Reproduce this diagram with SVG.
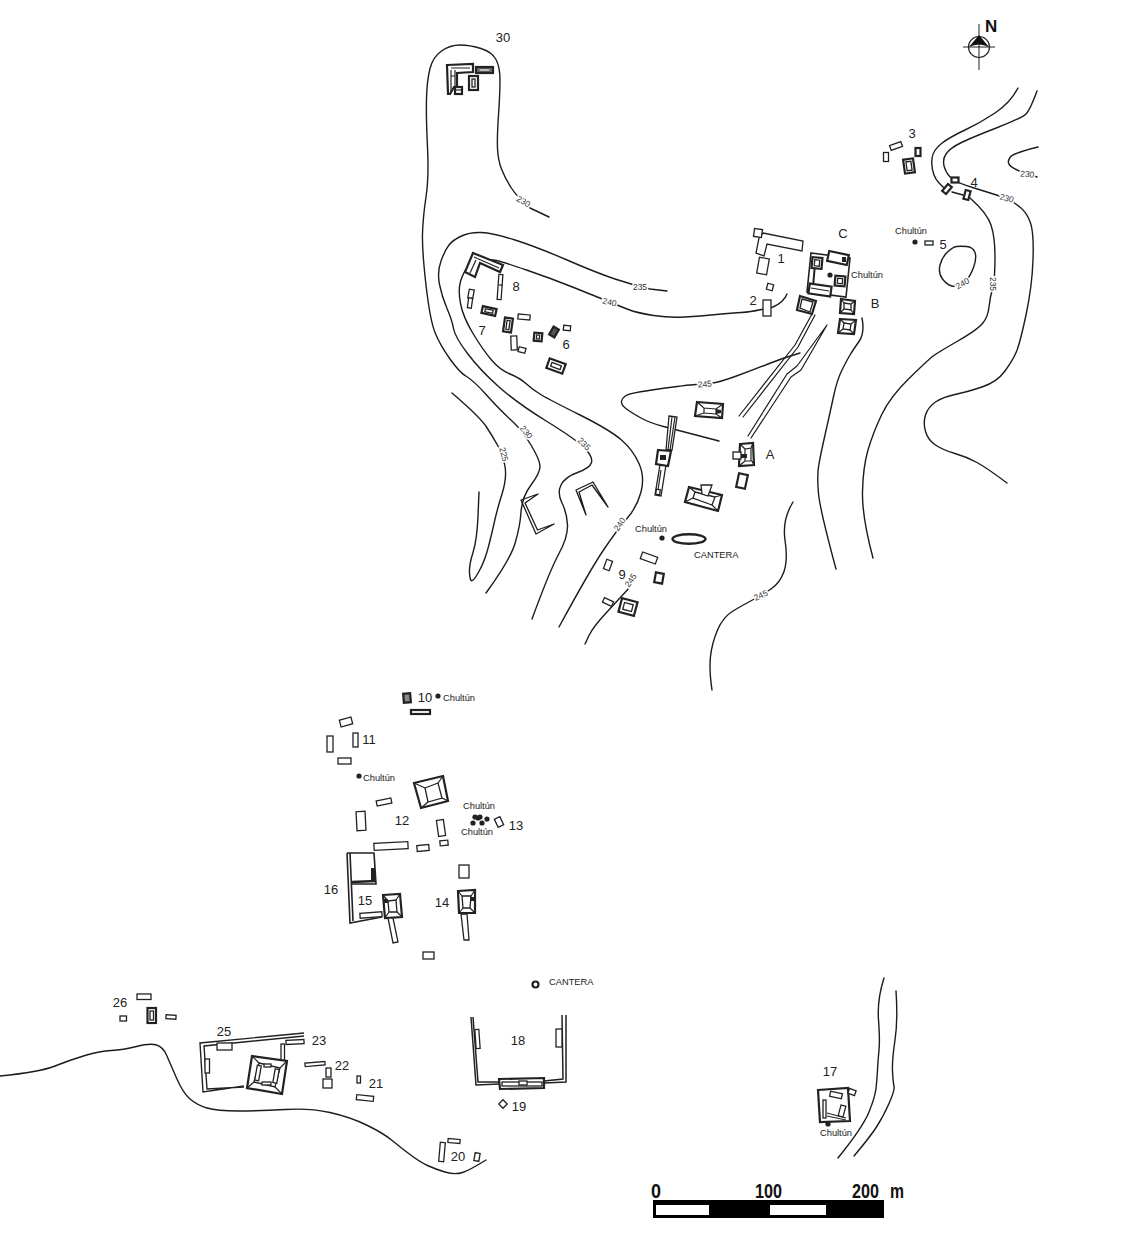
<svg xmlns="http://www.w3.org/2000/svg" width="1130" height="1241" viewBox="0 0 1130 1241">
<style>
text{font-family:"Liberation Sans",Arial,sans-serif;fill:#222;stroke:none}
.c{fill:none;stroke:#1c1c1c;stroke-width:1.4;stroke-linejoin:round;stroke-linecap:round}
.b rect,.b polygon{fill:#fff;stroke:#222;stroke-width:1.3;stroke-linejoin:miter}
.b path,.b polyline{fill:none;stroke:#222;stroke-width:1.2}
.b circle{stroke:#222;fill:#fff}
.b .t{stroke-width:2.2}
.b .d{fill:#222;stroke:none}
.l{font-size:13px;text-anchor:middle}
.s{font-size:9.3px}
.k{font-size:8.5px;text-anchor:middle;stroke:#fff;stroke-width:3px;paint-order:stroke;fill:#333}
</style>
<rect width="1130" height="1241" fill="#fff"/>
<g id="contours" class="c">
<path d="M549 217L530 208Q517 197 511 187.500Q505 178 501.500 169Q498 160 497.500 148.500Q497 137 498.500 115Q500 93 500 80Q500 67 496 59.500Q492 52 481 48.500Q470 45 460 45Q450 45 441.500 51Q433 57 430 68.500Q427 80 426.500 98.500Q426 117 427.500 147Q429 177 426 197Q423 217 422.500 233.500Q422 250 426 285Q430 320 435 332.500Q440 345 450 359Q460 373 466.500 376.500Q473 380 486.500 395Q500 410 511 420Q522 430 531 445Q540 460 540 466.500Q540 473 531 485Q522 497 521 512Q520 527 515 543.500Q510 560 486 593"/>
<path d="M667 291L650 289Q633 285 615 279Q597 273 567 260Q537 247 515 240Q493 233 481.500 232.500Q470 232 461.500 236Q453 240 449 245Q445 250 441 261Q437 272 439.500 284.500Q442 297 447 308.500Q452 320 453.500 328.500Q455 337 467.500 353.500Q480 370 498.500 386.500Q517 403 547 421.500Q577 440 585 448.500Q593 457 591.500 462.500Q590 468 577.500 472.500Q565 477 561 485Q557 493 562 503Q567 513 567.500 525Q568 537 559 553.500Q550 570 532 619"/>
<path d="M787 294Q784 302 773 307Q770 308 761.500 309.500Q750 312 741.500 312.500Q733 313 716.500 314.500Q700 316 685 317Q670 318 653.500 315.500Q637 313 627 309Q617 305 608.500 301.500Q600 298 575 288Q550 278 526.500 270Q503 262 496.500 260.500Q490 259 480 260.500Q472 262 467.500 267.500Q463 273 460.500 281.500Q458 290 460.500 303.500Q463 317 473 333.500Q483 350 491.500 360Q500 370 510 374Q520 378 526.500 384Q533 390 541.500 395Q550 400 580 415Q610 430 621.500 440Q633 450 639 463.500Q645 477 641 492Q637 507 627 518.500Q617 530 603.500 550Q590 570 559 627"/>
<path d="M452 393Q480 417 486.500 427Q493 437 498 446Q503 455 505 466.500Q507 478 502 494Q497 510 494.500 521.500Q492 533 488.500 546.500Q485 560 480 569.500Q475 579 472.500 580.500Q470 582 469.500 573Q469 565 473 552.500Q477 540 478 516L479 492"/>
<path d="M800 353Q783 358 768 364Q753 370 736.500 376Q720 382 712.500 383Q705 384 696 384.500Q687 385 658.500 389Q630 393 626 395.500Q622 398 621.500 401.500Q621 405 626.500 409Q632 413 641 418Q650 423 663.500 426.500Q677 430 719 441"/>
<path d="M630 587L607 612Q593 627 589 635.500L585 644"/>
<path d="M793 502Q782 520 785 540Q788 560 784 571.500Q780 583 771 589Q762 595 752.500 600Q743 605 733 611Q723 617 717.500 630Q712 643 710.500 656.500Q709 670 712 690"/>
<path d="M862 318Q865 333 859 341.500Q853 350 850 355Q847 360 842 370Q837 380 833.500 396.500Q830 413 825 435Q820 457 818.500 467Q817 477 818.500 493.500Q820 510 836 569"/>
<path d="M1018 88Q1010 103 995 113Q980 123 965 130Q950 137 941.500 143.500Q933 150 932 158.500Q931 167 934 175Q937 183 947 190M952 192L963 195M970 198Q987 213 991 225Q995 237 995 257Q995 277 993 287Q990 297 989 307Q988 317 982.500 323.500Q977 330 957 341.500Q937 353 932.500 356.500Q928 360 909 378.500Q890 397 881.500 415Q873 433 868 450Q863 467 862.500 492Q862 517 873 558"/>
<path d="M1037 91Q1030 110 1026 114Q1022 118 997.500 127.500Q973 137 961.500 142.500Q950 148 946 154Q942 160 944.500 167.500Q947 175 952.500 179Q958 183 972.500 187.500Q987 192 996.500 195Q1006 198 1010.500 200.500Q1015 203 1021 208Q1027 213 1030.500 223Q1034 233 1033 260Q1032 287 1026 315Q1020 343 1016.500 351.500Q1013 360 1005 371Q997 382 982 387Q967 392 955 394.500Q943 397 935.500 402Q928 407 925.500 415Q923 423 925.500 431.500Q928 440 935.500 445Q943 450 955 453.500Q967 457 977 462.500Q987 468 1007 483"/>
<path d="M1038 147Q1013 153 1010 157.500Q1007 162 1009.500 165Q1012 168 1019.500 171Q1027 174 1037 177"/>
<path d="M966.500 246.500Q973 247 975 252.500Q977 258 973.500 267.500Q970 277 966.500 279.500Q963 282 960 284.500Q957 287 952 286Q947 285 942.500 279Q938 273 940 265Q942 257 947.500 252Q953 247 956.500 246.500Q960 246 966.500 246.500Z"/>
<path d="M0 1076Q40 1072 55 1066Q70 1060 85 1055.500Q100 1051 111.500 1050.500Q123 1050 136.500 1046.500Q150 1043 156.500 1045Q163 1047 166.500 1055Q170 1063 176.500 1078Q183 1093 190 1099Q197 1105 207 1108Q217 1111 238.500 1111Q260 1111 285 1109.500Q310 1108 330 1112.500Q350 1117 366.500 1125Q383 1133 391.500 1140Q400 1147 410 1154.500Q420 1162 427.500 1165.500Q435 1169 445 1172Q455 1175 462.500 1172.500Q470 1170 486 1160"/>
<path d="M884 978Q877 1000 878.500 1020Q880 1040 879 1050Q878 1060 877.500 1070Q877 1080 876 1088.500Q875 1097 869 1112Q863 1127 838 1158"/>
<path d="M896 991Q898 1020 895 1040Q892 1060 892.500 1071Q893 1082 894 1086Q895 1090 889 1103.500Q883 1117 876.500 1127Q870 1137 854 1156"/>
</g>
<g id="contour-labels">
<text class="k" transform="translate(522 204) rotate(30)">230</text>
<text class="k" transform="translate(640 290)">235</text>
<text class="k" transform="translate(609 305) rotate(12)">240</text>
<text class="k" transform="translate(705 387) rotate(-5)">245</text>
<text class="k" transform="translate(1027 177) rotate(5)">230</text>
<text class="k" transform="translate(1006 201) rotate(15)">230</text>
<text class="k" transform="translate(964 286) rotate(-30)">240</text>
<text class="k" transform="translate(990 284) rotate(90)">235</text>
<text class="k" transform="translate(524 434) rotate(50)">230</text>
<text class="k" transform="translate(501 455) rotate(75)">225</text>
<text class="k" transform="translate(582 446) rotate(45)">235</text>
<text class="k" transform="translate(622 526) rotate(-55)">240</text>
<text class="k" transform="translate(633 582) rotate(-55)">245</text>
<text class="k" transform="translate(762 598) rotate(-25)">245</text>
</g>
<g id="north">
<circle cx="979" cy="47" r="10.500" fill="none" stroke="#222" stroke-width="1.200"/>
<path d="M963 47H995M979 24V70" stroke="#222" stroke-width="1"/>
<path d="M979 35L989 47Q979 42 969 47Z" fill="#111"/>
<path d="M968 47H990V50H968Z" fill="#fff" fill-opacity="0"/>
<text x="985" y="32" font-size="17" font-weight="bold" style="fill:#111">N</text>
</g>
<g id="site30" class="b">
<polygon class="t" points="447,65 473,64 473,72 457,73 457,87 454,87 450,94 448,94"/>
<path d="M451 68H470M451 70V92M455 70V86M451 76H455"/>
<rect class="t" x="476" y="67" width="17" height="6" style="fill:#777"/>
<rect x="479" y="69" width="11" height="2" style="stroke-width:.6"/>
<rect class="t" x="469" y="76" width="9" height="14"/><rect x="472" y="79" width="3" height="8"/>
<rect class="t" x="455" y="87" width="7" height="7"/><path d="M456 90H461"/>
<text class="l" x="503" y="42">30</text>
</g>
<g id="site8" class="b">
<polygon class="t" points="473,253 503,265 500,272 480,263 475,277 465,272"/>
<path d="M474 257L499 268M476 260L470 273"/>
<rect x="-2" y="-12.500" width="4" height="25" transform="translate(500 287) rotate(4)"/>
<path d="M499 285L503 285"/>
<text class="l" x="516" y="291">8</text>
</g>
<g id="site7" class="b">
<rect x="-2.500" y="-4.500" width="5" height="9" transform="translate(471 294) rotate(10)"/>
<rect x="-2" y="-5" width="4" height="10" transform="translate(470 303) rotate(8)"/>
<rect class="t" x="-7" y="-3.500" width="14" height="7" transform="translate(489 311) rotate(12)"/>
<rect x="-4" y="-1.500" width="8" height="3" transform="translate(489 311) rotate(12)"/>
<rect class="t" x="-4" y="-7" width="8" height="14" transform="translate(508 325) rotate(8)"/>
<rect x="-1.500" y="-4.500" width="3" height="9" transform="translate(508 325) rotate(8)"/>
<rect x="-6" y="-2.500" width="12" height="5" transform="translate(524 317) rotate(5)"/>
<rect x="-3" y="-7" width="6" height="14" transform="translate(514 343) rotate(-2)"/>
<rect x="-3.500" y="-2.500" width="7" height="5" transform="translate(522 350) rotate(15)"/>
<text class="l" x="482" y="335">7</text>
</g>
<g id="site6" class="b">
<rect class="t" x="-4" y="-4" width="8" height="8" transform="translate(538 337) rotate(5)"/>
<rect x="-1.500" y="-2" width="3" height="4" transform="translate(538 337) rotate(5)"/>
<rect class="t" x="-3" y="-4.500" width="6" height="9" transform="translate(554 332) rotate(30)" style="fill:#555"/>
<rect x="-3.500" y="-2.500" width="7" height="5" transform="translate(567 328) rotate(5)"/>
<rect class="t" x="-8.500" y="-5" width="17" height="10" transform="translate(556 366) rotate(20)"/>
<rect x="-5" y="-2" width="10" height="4" transform="translate(556 366) rotate(20)"/>
<text class="l" x="566" y="349">6</text>
</g>
<g id="site1" class="b">
<polygon points="763,233 803,241 802,251 767,244 764,256 756,253 759,238"/>
<rect x="-4" y="-4" width="8" height="8" transform="translate(758 233) rotate(8)"/>
<rect x="-5" y="-8" width="10" height="16" transform="translate(763 266) rotate(10)"/>
<text class="l" x="781" y="263">1</text>
</g>
<g id="site2" class="b">
<rect x="-3" y="-3" width="6" height="6" transform="translate(770 287) rotate(15)"/>
<rect x="763" y="300" width="8" height="16"/>
<text class="l" x="753" y="305">2</text>
</g>
<g id="siteC" class="b">
<polygon points="811,253 850,258 846,297 807,292" style="stroke-width:1.600"/>
<path d="M815 264L813 287" style="stroke-width:2"/>
<rect class="t" x="-10" y="-5" width="20" height="10" transform="translate(838 258) rotate(12)"/>
<rect class="d" x="842" y="257" width="4" height="5"/>
<rect class="t" x="-5" y="-5.500" width="10" height="11" transform="translate(817 263) rotate(5)"/>
<rect x="-2.500" y="-3" width="5" height="6" transform="translate(817 263) rotate(5)"/>
<rect class="t" x="-5" y="-5" width="10" height="10" transform="translate(840 281) rotate(5)"/>
<rect x="-2.500" y="-2.500" width="5" height="5" transform="translate(840 281) rotate(5)"/>
<rect class="t" x="-11" y="-5" width="22" height="10" transform="translate(820 290) rotate(8)"/>
<path d="M811 288L829 291"/>
<circle class="d" cx="830" cy="275" r="2.600"/>
<text class="s" x="851" y="278">Chultún</text>
<text class="l" x="843" y="238">C</text>
</g>
<g id="siteB" class="b">
<polygon class="t" points="800,296 816,301 812,314 797,310"/>
<polygon points="802,299 813,302 810,312 800,308"/>
<polygon class="t" points="841,299 855,301 854,314 840,313"/>
<polygon points="844,303 851,304 851,310 844,309"/>
<path d="M841 299L844 303M855 301L851 304M854 314L851 310M840 313L844 309"/>
<polygon class="t" points="840,319 856,320 854,334 838,333"/>
<polygon points="844,323 851,324 850,330 843,329"/>
<path d="M840 319L844 323M856 320L851 324M854 334L850 330M838 333L843 329"/>
<text class="l" x="875" y="308">B</text>
</g>
<g id="causeways" class="c" style="stroke-width:1.200">
<path d="M812 314L795 345L739 416M815 315L798 347L743 417"/>
<path d="M827 325L797 366L787 374L748 436M827 325L801 370L791 377L751 438"/>
</g>
<g id="siteA" class="b">
<polygon class="t" points="697,402 723,404 722,418 695,416"/>
<path d="M697 402L704 408L716 409L723 404M695 416L704 413L716 414L722 418M704 408V413M716 409V414"/>
<polygon class="d" points="716,409 721,410 721,413 716,414"/>
<polygon points="669,416 677,417 672,450 666,450"/>
<path d="M672 417L668 450M675 417L670 450"/>
<polygon points="660,465 666,465 661,496 655,495"/>
<path d="M661 470L658 490"/>
<rect x="-2" y="-2.500" width="4" height="5" transform="translate(658 492) rotate(8)"/>
<polygon class="t" points="658,450 671,451 668,466 656,464"/>
<rect class="d" x="660" y="455" width="6" height="5"/>
<polygon class="t" points="740,444 753,443 754,465 739,466"/>
<path d="M740 444L745 449L751 448L753 443M745 449V461H752M739 466L745 461M754 465L752 461M751 448V461"/>
<rect x="733" y="452" width="8" height="7"/>
<rect class="d" x="741" y="454" width="6" height="4"/>
<rect class="t" x="-4.500" y="-7" width="9" height="14" transform="translate(742 481) rotate(12)"/>
<polygon class="t" points="689,487 722,495 718,511 685,502"/>
<polygon points="695,492 715,497 712,505 693,498"/>
<path d="M689 487L695 492M722 495L715 497M718 511L712 505M685 502L693 498"/>
<polygon points="701,485 712,485 708,496 702,494"/>
<text class="l" x="770" y="459">A</text>
</g>
<g id="walls" class="c" style="stroke-width:1.300">
<path d="M538 494L521 500L536 534L554 524M538 494L525 503L537.500 530L554 524"/>
<path d="M586 515L576 490L593 482L608 507M586 515L579 492L592 485L608 507"/>
</g>
<g id="cantera1">
<ellipse cx="689" cy="539" rx="16.500" ry="4.800" fill="#fff" stroke="#222" stroke-width="2.400"/>
<circle cx="662" cy="538" r="2.600" fill="#222"/>
<text class="s" x="635" y="532">Chultún</text>
<text class="s" x="694" y="558">CANTERA</text>
</g>
<g id="site9" class="b">
<rect x="-8" y="-3.500" width="16" height="7" transform="translate(649 558) rotate(20)"/>
<rect x="-3" y="-5" width="6" height="10" transform="translate(608 565) rotate(20)"/>
<rect class="t" x="-4" y="-5" width="8" height="10" transform="translate(659 578) rotate(10)"/>
<rect x="-5" y="-2.500" width="10" height="5" transform="translate(608 602) rotate(25)"/>
<rect class="t" x="-8" y="-7" width="16" height="14" transform="translate(628 607) rotate(15)"/>
<rect x="-4.500" y="-3.500" width="9" height="7" transform="translate(628 607) rotate(15)"/>
<text class="l" x="622" y="579">9</text>
</g>
<g id="site3" class="b">
<rect x="-6" y="-2.500" width="12" height="5" transform="translate(896 146) rotate(-20)"/>
<rect x="-2.500" y="-4.500" width="5" height="9" transform="translate(886 157)"/>
<rect class="t" x="-2.500" y="-4" width="5" height="8" transform="translate(918 152)"/>
<rect class="t" x="-5" y="-7" width="10" height="14" transform="translate(909 166) rotate(-8)"/>
<rect x="-2.500" y="-4.500" width="5" height="9" transform="translate(909 166) rotate(-8)"/>
<text class="l" x="912" y="138">3</text>
</g>
<g id="site4" class="b">
<rect class="t" x="-3.500" y="-2.500" width="7" height="5" transform="translate(955 180)"/>
<rect class="t" x="-2.500" y="-4.500" width="5" height="9" transform="translate(947 189) rotate(40)"/>
<rect class="t" x="-2.500" y="-4.500" width="5" height="9" transform="translate(967 195) rotate(15)"/>
<text class="l" x="974" y="187">4</text>
</g>
<g id="site5" class="b">
<rect x="925" y="241" width="8" height="4"/>
<circle class="d" cx="915" cy="242" r="2.600"/>
<text class="s" x="895" y="234">Chultún</text>
<text class="l" x="943" y="249">5</text>
</g>
<g id="site10" class="b">
<rect class="t" x="-3.500" y="-4.500" width="7" height="9" transform="translate(407 698) rotate(-5)" style="fill:#888"/>
<rect class="t" x="411" y="710" width="19" height="4"/>
<circle class="d" cx="438" cy="696" r="2.600"/>
<text class="s" x="443" y="701">Chultún</text>
<text class="l" x="425" y="702">10</text>
</g>
<g id="site11" class="b">
<rect x="-6" y="-3.500" width="12" height="7" transform="translate(346 722) rotate(-15)"/>
<rect x="327" y="736" width="6" height="16"/>
<rect x="353" y="733" width="5" height="14"/>
<rect x="338" y="758" width="13" height="6"/>
<text class="l" x="369" y="744">11</text>
</g>
<g id="site12" class="b">
<circle class="d" cx="359" cy="776" r="2.600"/>
<text class="s" x="363" y="781">Chultún</text>
<polygon class="t" points="414,783 443,776 448,801 421,808"/>
<polygon points="425,788 438,783 442,798 428,802"/>
<path d="M414 783L425 788M443 776L438 783M448 801L442 798M421 808L428 802"/>
<rect x="-7.500" y="-2.500" width="15" height="5" transform="translate(384 802) rotate(-12)"/>
<rect x="-4.500" y="-9.500" width="9" height="19" transform="translate(361 821) rotate(-3)"/>
<rect x="-3.500" y="-8" width="7" height="16" transform="translate(441 828) rotate(-8)"/>
<rect x="-4" y="-2.500" width="8" height="5" transform="translate(444 843) rotate(-5)"/>
<rect x="-6" y="-3" width="12" height="6" transform="translate(423 848) rotate(-5)"/>
<rect x="-17" y="-3.500" width="34" height="7" transform="translate(391 846) rotate(-3)"/>
<text class="l" x="402" y="825">12</text>
</g>
<g id="site13" class="b">
<circle class="d" cx="475" cy="817" r="2.600"/><circle class="d" cx="480" cy="817" r="2.600"/><circle class="d" cx="487" cy="819" r="2.600"/><circle class="d" cx="473" cy="823" r="2.600"/><circle class="d" cx="482" cy="823" r="2.600"/><circle class="d" cx="478" cy="818" r="2.600"/>
<text class="s" x="463" y="809">Chultún</text>
<text class="s" x="461" y="835">Chultún</text>
<rect x="-3" y="-4.500" width="6" height="9" transform="translate(499 822) rotate(-25)"/>
<text class="l" x="516" y="830">13</text>
</g>
<g id="site16" class="b">
<path d="M347 853L350 923L382 917M350 853L353 921" style="stroke-width:1.600"/>
<path d="M347 853H374L376 884L352 884" style="stroke-width:1.600"/>
<path d="M352 882L376 881" style="stroke-width:2.400"/>
<path d="M373 868V881" style="stroke-width:4"/>
<rect x="-11" y="-2.500" width="22" height="5" transform="translate(371 915) rotate(-4)"/>
<text class="l" x="331" y="894">16</text>
</g>
<g id="site15" class="b">
<polygon class="t" points="383,895 400,894 402,917 385,918"/>
<polygon points="388,901 396,900 397,912 389,912"/>
<path d="M383 895L388 901M400 894L396 900M402 917L397 912M385 918L389 912"/>
<rect class="d" x="384" y="899" width="4" height="4"/>
<polygon points="388,918 393,918 398,942 393,943"/>
<text class="l" x="365" y="905">15</text>
</g>
<g id="site14" class="b">
<polygon class="t" points="458,891 475,890 475,913 459,913"/>
<polygon points="462,896 471,896 470,908 463,908"/>
<path d="M458 891L462 896M475 890L471 896M475 913L470 908M459 913L463 908"/>
<rect class="d" x="470" y="897" width="4" height="4"/>
<polygon points="461,914 467,914 469,940 464,940"/>
<rect x="459" y="865" width="10" height="13"/>
<rect x="423" y="952" width="11" height="7"/>
<text class="l" x="442" y="907">14</text>
</g>
<g id="site26" class="b">
<rect x="137" y="994" width="14" height="5.500"/>
<rect class="t" x="147.500" y="1008" width="8.500" height="15"/>
<rect x="150" y="1011" width="3.500" height="9"/>
<rect x="120" y="1016" width="6.500" height="5"/>
<rect x="-5" y="-2" width="10" height="4" transform="translate(171 1017) rotate(3)"/>
<text class="l" x="120" y="1007">26</text>
</g>
<g id="site25" class="b">
<path d="M304 1033L200 1043L203 1092L244 1086M304 1036L204 1046L207 1089L244 1087" style="stroke-width:1.400"/>
<rect x="217" y="1043" width="15" height="7"/>
<rect x="205" y="1059" width="4.500" height="14"/>
<rect x="281" y="1044" width="3.500" height="17"/>
<polygon class="t" points="252,1056 287,1061 282,1094 247,1088"/>
<polygon points="259,1063 280,1068 275,1087 254,1082"/>
<path d="M252 1056L259 1063M287 1061L280 1068M282 1094L275 1087M247 1088L254 1082"/>
<rect x="-2" y="-7.500" width="4" height="15" transform="translate(258 1073) rotate(10)"/>
<rect x="-2" y="-7" width="4" height="14" transform="translate(276 1076) rotate(10)"/>
<rect x="264" y="1064" width="7" height="3"/>
<rect x="262" y="1082" width="9" height="3"/>
<text class="l" x="224" y="1036">25</text>
</g>
<g id="site23" class="b">
<rect x="-9" y="-2" width="18" height="4" transform="translate(295 1042) rotate(-3)"/>
<text class="l" x="319" y="1045">23</text>
</g>
<g id="site22" class="b">
<rect x="-10" y="-1.700" width="20" height="3.500" transform="translate(315 1064) rotate(-5)"/>
<rect x="326" y="1068" width="5" height="9"/>
<rect x="323" y="1079" width="9" height="9"/>
<text class="l" x="342" y="1070">22</text>
</g>
<g id="site21" class="b">
<rect x="357" y="1076" width="3.500" height="7"/>
<rect x="-8.500" y="-2.500" width="17" height="5" transform="translate(365 1098) rotate(6)"/>
<text class="l" x="376" y="1088">21</text>
</g>
<g id="site18" class="b">
<path d="M471 1017L476 1085L499 1084M473 1017L478 1082L499 1082M562 1015L563 1079L544 1081M566 1015L566 1082L544 1083" style="stroke-width:1.500"/>
<rect x="-2.500" y="-9.500" width="4" height="19" transform="translate(478 1039) rotate(-4)"/>
<rect x="556" y="1029" width="6" height="18"/>
<polygon class="t" points="499,1079 544,1078 544,1088 500,1089"/>
<rect x="502" y="1082" width="40" height="4"/>
<rect x="519" y="1081" width="8" height="4"/>
<text class="l" x="518" y="1045">18</text>
</g>
<g id="site19" class="b">
<rect x="-3" y="-3" width="6" height="6" transform="translate(503 1104) rotate(45)"/>
<text class="l" x="519" y="1111">19</text>
</g>
<g id="cantera2" class="b">
<circle cx="535.500" cy="984.500" r="3" style="stroke-width:2.200"/>
<text class="s" x="549" y="985">CANTERA</text>
</g>
<g id="site20" class="b">
<rect x="-2.500" y="-9.500" width="5" height="19" transform="translate(442 1152) rotate(5)"/>
<rect x="-6" y="-2" width="12" height="4" transform="translate(454 1141) rotate(5)"/>
<rect x="-2.500" y="-4" width="5" height="8" transform="translate(477 1157) rotate(10)"/>
<text class="l" x="458" y="1161">20</text>
</g>
<g id="site17" class="b">
<polygon class="t" points="818,1090 848,1088 850,1121 820,1122"/>
<rect x="-6" y="-2.500" width="12" height="5" transform="translate(836 1095) rotate(12)"/>
<rect x="-3.500" y="-2.500" width="7" height="5" transform="translate(852 1092) rotate(20)"/>
<rect x="823" y="1100" width="3" height="18"/>
<rect x="-2.500" y="-5.500" width="5" height="11" transform="translate(842 1111) rotate(15)"/>
<path d="M827 1113L846 1118M827 1116L846 1120"/>
<circle class="d" cx="828" cy="1124" r="2.600"/>
<text class="s" x="820" y="1136">Chultún</text>
<text class="l" x="830" y="1076">17</text>
</g>
<g id="scale">
<rect x="653" y="1200" width="231" height="18" fill="#000"/>
<rect x="656" y="1205" width="53" height="10" fill="#fff"/>
<rect x="770" y="1205" width="56" height="10" fill="#fff"/>
<g font-size="20" font-weight="bold">
<text x="651" y="1198" textLength="10" lengthAdjust="spacingAndGlyphs" style="fill:#111">0</text>
<text x="755" y="1198" textLength="27" lengthAdjust="spacingAndGlyphs" style="fill:#111">100</text>
<text x="852" y="1198" textLength="27" lengthAdjust="spacingAndGlyphs" style="fill:#111">200</text>
<text x="890" y="1198" textLength="14" lengthAdjust="spacingAndGlyphs" style="fill:#111">m</text>
</g>
</g>
</svg>
